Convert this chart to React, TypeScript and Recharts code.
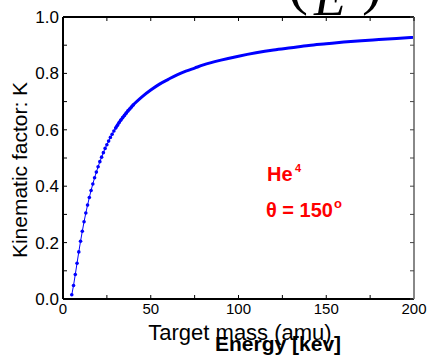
import React from "react";
import { LineChart, Line, XAxis, YAxis } from "recharts";

// target mass (amu) and kinematic factor K (He-4, 150 deg)
const masses = [
	5, 6, 7, 8, 9, 10, 11, 12, 13, 14, 15, 16, 17, 18, 19, 20, 21, 22, 23, 24, 25, 26, 27, 28, 29, 30,
	31, 32, 33, 34, 35, 36, 37, 38, 39, 40, 45, 50, 55, 60, 65, 70, 75, 80, 90, 100, 110, 120, 130,
	140, 150, 160, 170, 180, 190, 200
];
const kFactor = [
	0.015, 0.048, 0.087, 0.127, 0.167, 0.205, 0.24, 0.274, 0.305, 0.333, 0.36, 0.385, 0.408, 0.43,
	0.45, 0.469, 0.487, 0.503, 0.519, 0.534, 0.547, 0.56, 0.573, 0.584, 0.596, 0.606, 0.616, 0.626,
	0.635, 0.643, 0.651, 0.659, 0.667, 0.674, 0.681, 0.688, 0.717, 0.741, 0.762, 0.779, 0.795, 0.808,
	0.819, 0.83, 0.847, 0.861, 0.873, 0.883, 0.891, 0.899, 0.905, 0.911, 0.916, 0.92, 0.924, 0.928
];

const xTicks = [0, 25, 50, 75, 100, 125, 150, 175, 200];
const yTicks = [0, 0.1, 0.2, 0.3, 0.4, 0.5, 0.6, 0.7, 0.8, 0.9, 1.0];

const rows = masses.map((m, i) => ({
	m,
	low: m <= 40 ? kFactor[i] : undefined,
	high: m >= 30 ? kFactor[i] : undefined
}));

const BLUE = "#0000ff";
const RED = "#ff0000";
const FONT = "'Liberation Sans', Arial, sans-serif";

// plot box (matches chart margins / axis sizes below)
const BOX = { left: 63, top: 17, right: 414, bottom: 299 };

const SmallDot = (props: any) => {
	const { cx, cy, index } = props;
	if (cx == null || cy == null) return <g key={`d-${index}`} />;
	return <circle key={`d-${index}`} cx={cx} cy={cy} r={1.8} fill={BLUE} stroke="none" />;
};

export default function App() {
	const w = BOX.right - BOX.left;
	const h = BOX.bottom - BOX.top;
	return (
		<div
			style={{
				position: "absolute",
				left: 0,
				top: 0,
				width: 427,
				height: 360,
				background: "#fff",
				fontFamily: FONT,
				overflow: "hidden"
			}}
		>
			<LineChart
				width={427}
				height={360}
				data={rows}
				margin={{ top: BOX.top, right: 427 - BOX.right, bottom: 0, left: 0 }}
			>
				<XAxis
					dataKey="m"
					type="number"
					domain={[0, 200]}
					ticks={xTicks}
					interval={0}
					height={360 - BOX.bottom}
					tickSize={-4}
					tickMargin={8}
					tickFormatter={(v: number) => (v % 50 === 0 ? String(v) : "")}
					tick={{ fill: "#000", fontSize: 15, fontFamily: FONT }}
					tickLine={{ stroke: "#000", strokeWidth: 1 }}
					axisLine={{ stroke: "#000", strokeWidth: 2 }}
				/>
				<YAxis
					type="number"
					domain={[0, 1]}
					ticks={yTicks}
					interval={0}
					width={BOX.left}
					tickSize={-4}
					tickMargin={8}
					tickFormatter={(v: number) => (Math.round(v * 10) % 2 === 0 ? v.toFixed(1) : "")}
					tick={{ fill: "#000", fontSize: 17, fontFamily: FONT }}
					tickLine={{ stroke: "#000", strokeWidth: 1 }}
					axisLine={{ stroke: "#000", strokeWidth: 2 }}
				/>
				<Line
					dataKey="low"
					type="linear"
					stroke={BLUE}
					strokeWidth={1}
					dot={<SmallDot />}
					activeDot={false}
					connectNulls={false}
					isAnimationActive={false}
				/>
				<Line
					dataKey="high"
					type="monotone"
					stroke={BLUE}
					strokeWidth={3}
					dot={false}
					activeDot={false}
					isAnimationActive={false}
				/>
			</LineChart>
			<svg
				width={427}
				height={360}
				style={{ position: "absolute", left: 0, top: 0, pointerEvents: "none" }}
			>
				{/* top and right edges of the box, ticks pointing inward */}
				<line x1={BOX.left} y1={BOX.top} x2={BOX.right} y2={BOX.top} stroke="#000" strokeWidth={2} />
				<line x1={BOX.right} y1={BOX.top} x2={BOX.right} y2={BOX.bottom} stroke="#888" strokeWidth={2} />
				{xTicks.map((t) => {
					const x = BOX.left + (t / 200) * w;
					return <line key={`tt-${t}`} x1={x} y1={BOX.top} x2={x} y2={BOX.top + 4} stroke="#000" />;
				})}
				{yTicks.map((t) => {
					const y = BOX.bottom - t * h;
					return <line key={`rt-${t}`} x1={BOX.right - 4} y1={y} x2={BOX.right} y2={y} stroke="#444" />;
				})}
				<text x={288} y={3} fontSize={60} fontFamily="'Liberation Serif', serif" fill="#000">
					(
				</text>
				<text
					x={314}
					y={15}
					fontSize={52}
					fontStyle="italic"
					fontFamily="'Liberation Serif', serif"
					fill="#000"
				>
					E
				</text>
				<text x={362} y={3} fontSize={60} fontFamily="'Liberation Serif', serif" fill="#000">
					)
				</text>
				<text
					transform="translate(27,170) rotate(-90)"
					textAnchor="middle"
					fontSize={21}
					fontFamily={FONT}
					fill="#000"
				>
					Kinematic factor: K
				</text>
				<text x={240} y={340} textAnchor="middle" fontSize={22} fontFamily={FONT} fill="#000">
					Target mass (amu)
				</text>
				<text x={215} y={351} fontSize={21} fontWeight="bold" fontFamily={FONT} fill="#000">
					Energy [kev]
				</text>
				<text x={267} y={181} fontSize={20} fontWeight="bold" fontFamily={FONT} fill={RED}>
					He
				</text>
				<text x={295} y={172} fontSize={11} fontWeight="bold" fontFamily={FONT} fill={RED}>
					4
				</text>
				<text x={266} y={217} fontSize={20} fontWeight="bold" fontFamily={FONT} fill={RED}>
					θ = 150
				</text>
				<text x={334} y={208} fontSize={13} fontWeight="bold" fontFamily={FONT} fill={RED}>
					o
				</text>
			</svg>
		</div>
	);
}
